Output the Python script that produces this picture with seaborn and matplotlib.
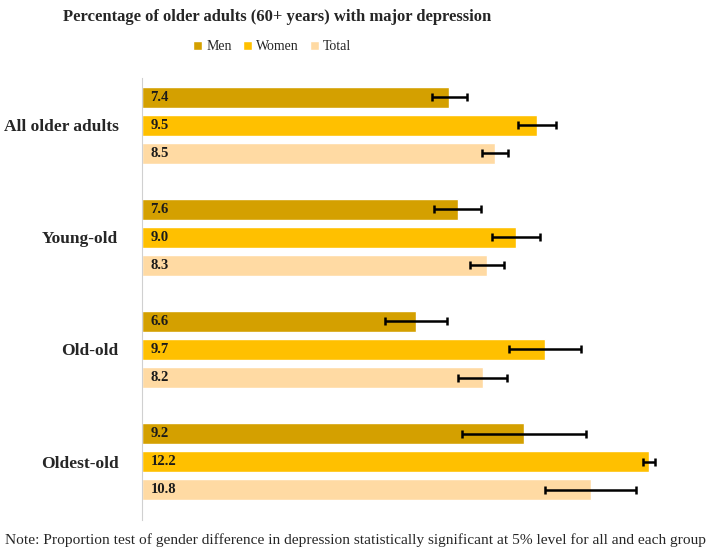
import pandas as pd
import matplotlib.pyplot as plt
import seaborn as sns

# Values
groups = ['All older adults', 'Young-old', 'Old-old', 'Oldest-old']
sexes = ['Men', 'Women', 'Total']
men = [7.4, 7.6, 6.6, 9.2]
women = [9.5, 9.0, 9.7, 12.2]
total = [8.5, 8.3, 8.2, 10.8]
men_err = [0.43, 0.56, 0.74, 1.49]
women_err = [0.46, 0.58, 0.87, 0.15]
total_err = [0.32, 0.41, 0.59, 1.10]

colors = ['#D4A000', '#FFC000', '#FFDAA3']

df = pd.DataFrame({
    'group': groups * 3,
    'sex': ['Men'] * 4 + ['Women'] * 4 + ['Total'] * 4,
    'pct': men + women + total,
})
errs = {'Men': men_err, 'Women': women_err, 'Total': total_err}

sns.set_style('white')
plt.rcParams['font.family'] = ['Liberation Serif', 'DejaVu Serif']

fig = plt.figure(figsize=(7.08, 5.5), dpi=100)
ax = fig.add_axes([142 / 708, 30 / 550, 540 / 708, 442 / 550])

sns.barplot(data=df, y='group', x='pct', hue='sex', hue_order=sexes,
            palette=colors, orient='h', width=0.75, gap=0.25,
            errorbar=None, ax=ax, saturation=1)

# Error bars and value labels
for cont, sex in zip(ax.containers, sexes):
    for bar, e in zip(cont, errs[sex]):
        w = bar.get_width()
        yc = bar.get_y() + bar.get_height() / 2
        ax.errorbar(w, yc, xerr=e, color='black', lw=1.8, capsize=3,
                    capthick=1.8)
        ax.text(0.2, yc, f'{w:.1f}', va='center', ha='left',
                fontsize=10.5, fontweight='bold', color='#1a1a1a')

ax.set_xlim(0, 13)
ax.set_ylim(3.52, -0.42)
ax.set_xlabel('')
ax.set_ylabel('')
ax.set_xticks([])
ax.tick_params(axis='y', length=0, pad=17)
for lab in ax.get_yticklabels():
    lab.set_fontweight('bold')
    lab.set_fontsize(12.5)
for side in ['top', 'right', 'bottom']:
    ax.spines[side].set_visible(False)
ax.spines['left'].set_color('#d0d0d0')

ax.legend(loc='center', bbox_to_anchor=(272 / 708, 1 - 47 / 550),
          bbox_transform=fig.transFigure, ncol=3, frameon=False,
          fontsize=10, handlelength=0.65, handleheight=0.65,
          handletextpad=0.3, columnspacing=0.8)

fig.text(277 / 708, 1 - 17 / 550,
         'Percentage of older adults (60+ years) with major depression',
         ha='center', va='center', fontsize=12, fontweight='bold')
fig.text(5 / 708, 1 - 540 / 550,
         'Note: Proportion test of gender difference in depression statistically significant at 5% level for all and each group',
         ha='left', va='center', fontsize=11.1)

fig.savefig('out.png', dpi=100)
